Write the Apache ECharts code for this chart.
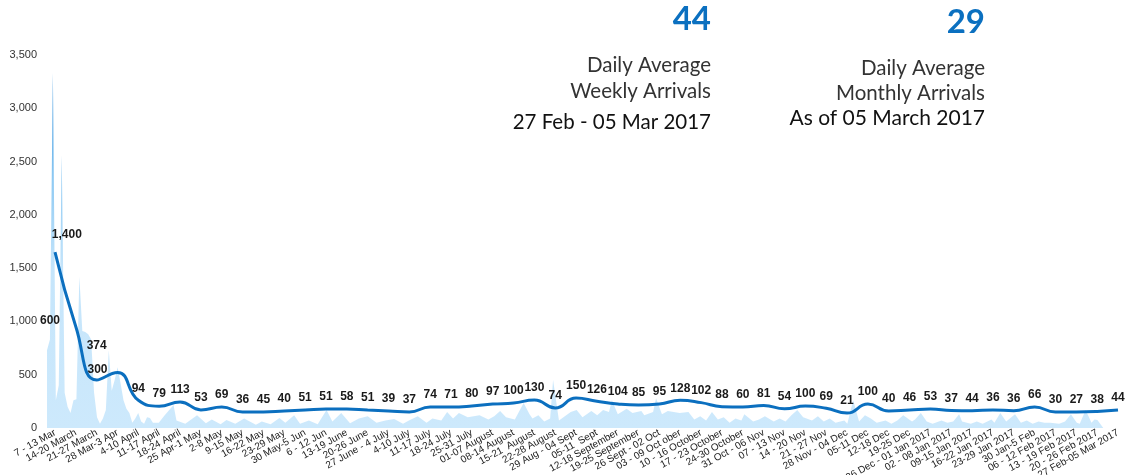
<!DOCTYPE html>
<html>
<head>
<meta charset="utf-8">
<script src="https://cdn.jsdelivr.net/npm/echarts@6/dist/echarts.min.js"></script>
<style>
html,body{margin:0;padding:0;background:#fff;}
#chart{width:1136px;height:475px;}
</style>
</head>
<body>
<div id="chart"></div>
<script>
const weeks = ["7 - 13 Mar","14-20 March","21-27 March","28 Mar-3 Apr","4-10 April","11-17 April","18-24 April","25 Apr-1 May","2-8 May","9-15 May","16-22 May","23-29 May","30 May-5 Jun","6 - 12 Jun","13-19 June","20-26 June","27 June - 4 July","4-10 July","11-17 July","18-24 July","25-31 July","01-07 August","08-14 August","15-21  August","22-28 August","29 Aug - 04 Sept","05-11  Sept","12-18 September","19-25 September","26 Sept - 02 Oct","03 - 09 Oct ober","10 - 16 October","17 - 23 October","24-30 October","31 Oct - 06 Nov","07 - 13 Nov","14 - 20 Nov","21 - 27 Nov","28 Nov - 04 Dec","05-11 Dec","12-18 Dec","19-25 Dec","26 Dec - 01 Jan 2017","02 - 08 Jan 2017","09-15 Jan 2017","16-22 Jan 2017","23-29 Jan 2017","30 Jan-5 Feb","06 - 12 Feb 2017","13 - 19 Feb 2017","20 - 26 Feb 2017","27 Feb-05 Mar 2017"];

const weeklyLabels = [600,1400,374,300,94,79,113,53,69,36,45,40,51,51,58,51,39,37,74,71,80,97,100,130,74,150,126,104,85,95,128,102,88,60,81,54,100,69,21,100,40,46,53,37,44,36,36,66,30,27,38,44];

const trendVals = [1650,950,450,520,260,205,244,170,197,150,150,160,169,178,178,168,160,150,197,197,206,225,234,263,188,281,250,225,215,225,260,238,200,197,212,180,206,185,140,225,160,169,178,165,162,169,162,197,150,150,155,169];

const areaDay = [0,1,2,3,4,5,6,7,8,9,10,11,12,13,14,15,16,17,18,19,20,21,22,23,24,25,26,27,28,29,30,31,32,33,34,35,36,38,40,43,44,47,51,54,56,59,61,64,67,71,73,76,79,81,84,86,89,92,95,97,100,103,106,109,112,115,118,121,123,126,129,131,134,136,138,140,143,145,147,150,152,154,156,159,162,164,165,167,169,171,172,174,176,178,180,182,185,187,189,191,192,194,197,199,202,203,206,207,209,211,213,215,218,220,222,224,226,228,230,232,234,236,237,240,242,244,247,249,251,253,255,257,260,262,264,266,268,271,272,274,276,278,280,282,285,287,289,291,294,295,297,299,301,304,306,308,310,311,314,316,318,321,322,324,326,329,331,333,335,337,339,341,344,346,348,350,351,353,355,356,357,359];

const areaVal = [730,830,3330,260,400,2560,330,200,140,260,270,1420,910,900,880,830,330,100,40,90,170,730,350,450,570,420,260,180,140,50,90,140,60,40,100,95,50,50,120,215,70,40,120,45,80,35,75,40,90,30,60,35,95,50,120,40,70,35,170,60,140,45,90,110,50,70,85,40,70,110,50,90,70,150,90,140,100,110,120,80,110,160,100,80,235,130,90,120,60,90,450,70,110,150,170,100,160,120,170,150,260,130,180,140,160,120,150,280,130,160,150,140,150,80,110,70,150,80,100,50,90,70,130,60,80,110,60,90,60,120,170,100,70,110,60,90,50,70,40,260,60,120,90,50,70,40,70,120,60,80,140,60,40,70,50,60,130,60,40,60,40,80,50,140,60,130,50,70,40,60,50,50,40,60,130,50,40,170,50,80,75,0];

const yTicks = [0,500,1000,1500,2000,2500,3000,3500];

// style-only: manual label nudges for the crowded first weeks
const labelNudge = {0:[-5,81],1:[-9,-80],2:[0,-22],3:[-20,9]};

const chart = echarts.init(document.getElementById('chart'), null, {renderer:'canvas'});

const lineData = trendVals.map((v,i)=> labelNudge[i] ? {value:v, label:{offset:labelNudge[i]}} : {value:v});
const areaData = areaDay.map((d,i)=>[d, areaVal[i]]);

const fontBase = '"Liberation Sans", Arial, sans-serif';
const fontTxt = 'Lato, "Open Sans", sans-serif';

chart.setOption({
  animation:false,
  backgroundColor:'#fff',
  grid:[
    {left:55,right:18,top:55,bottom:47,containLabel:false,outerBoundsMode:'none'},
    {left:47,right:18,top:55,bottom:47,containLabel:false,outerBoundsMode:'none'}
  ],
  xAxis:[
    {type:'category', gridIndex:0, data:weeks, boundaryGap:false,
     axisLine:{show:false}, axisTick:{show:false}, splitLine:{show:false},
     axisLabel:{interval:0, rotate:29, fontSize:10, color:'#222', margin:4, fontFamily:fontBase, hideOverlap:false}},
    {type:'value', gridIndex:1, min:0, max:364, show:false}
  ],
  yAxis:[
    {type:'value', gridIndex:0, min:yTicks[0], max:yTicks[yTicks.length-1], interval:500,
     splitLine:{show:false}, axisLine:{show:false}, axisTick:{show:false},
     axisLabel:{color:'#333', fontSize:11, margin:18, fontFamily:fontBase,
       formatter:v=>v.toLocaleString('en-US')}},
    {type:'value', gridIndex:1, min:yTicks[0], max:yTicks[yTicks.length-1], show:false}
  ],
  series:[
    {type:'line', xAxisIndex:1, yAxisIndex:1, data:areaData, symbol:'none', silent:true,
     lineStyle:{width:0},
     areaStyle:{opacity:1, color:new echarts.graphic.LinearGradient(0,0,0,1,[
       {offset:0,color:'#2f8fdc'},{offset:0.3,color:'#8fcaf3'},{offset:0.55,color:'#c5e5fb'},{offset:1,color:'#cde9fc'}])},
     z:1},
    {type:'line', xAxisIndex:0, yAxisIndex:0, data:lineData, smooth:0.5,
     symbol:'circle', symbolSize:2, itemStyle:{color:'rgba(0,0,0,0)', borderWidth:0},
     lineStyle:{color:'#0b6fbf', width:3},
     label:{show:true, position:'top', distance:5, color:'#1a1a1a', fontWeight:'bold', fontSize:12, fontFamily:fontBase,
       formatter:p=>weeklyLabels[p.dataIndex].toLocaleString('en-US')},
     z:3}
  ],
  graphic:[
    {type:'text', style:{text:'44', x:711, y:19, font:'bold 33px '+fontTxt, fill:'#0b70c0', textAlign:'right', textVerticalAlign:'middle'}},
    {type:'text', style:{text:'Daily Average', x:711, y:65, font:'20.5px '+fontTxt, fill:'#333', textAlign:'right', textVerticalAlign:'middle'}},
    {type:'text', style:{text:'Weekly Arrivals', x:711, y:91, font:'20.5px '+fontTxt, fill:'#333', textAlign:'right', textVerticalAlign:'middle'}},
    {type:'text', style:{text:'27 Feb - 05 Mar 2017', x:711, y:122, font:'20.5px '+fontTxt, fill:'#111', textAlign:'right', textVerticalAlign:'middle'}},
    {type:'text', style:{text:'29', x:985, y:22, font:'bold 33px '+fontTxt, fill:'#0b70c0', textAlign:'right', textVerticalAlign:'middle'}},
    {type:'text', style:{text:'Daily Average', x:985, y:68, font:'20.5px '+fontTxt, fill:'#333', textAlign:'right', textVerticalAlign:'middle'}},
    {type:'text', style:{text:'Monthly Arrivals', x:985, y:93, font:'20.5px '+fontTxt, fill:'#333', textAlign:'right', textVerticalAlign:'middle'}},
    {type:'text', style:{text:'As of 05 March 2017', x:985, y:118, font:'21px '+fontTxt, fill:'#111', textAlign:'right', textVerticalAlign:'middle'}}
  ]
});
</script>
</body>
</html>
